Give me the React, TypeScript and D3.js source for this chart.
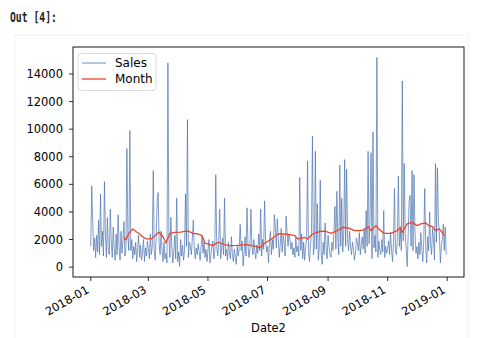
import React from "react";
import * as d3 from "d3";

// ---- Data ----
const salesJan = [1500, 5900, 3200, 1200, 2100, 700, 2300, 1100, 3400, 900, 5300, 1500, 2600, 800, 6200, 2400, 700, 3600, 1200, 900, 4200, 1800, 700, 2900, 1300, 500, 2400, 900, 3800, 1500, 500];
const salesFeb = [2600, 1000, 1900, 3300, 800, 1400, 8600, 2200, 1200, 9900, 1200, 2000, 600, 1500, 900, 1800, 400, 1300, 2300, 700, 1600, 500, 1100, 2000, 400, 1400, 800, 1900];
const salesMar = [1300, 600, 2400, 900, 1500, 7000, 1100, 500, 2200, 4800, 5400, 1700, 900, 2600, 1300, 400, 1800, 600, 1000, 300, 14800, 2100, 700, 3600, 1500, 300, 1200, 2300, 600, 5000, 400];
const salesApr = [1100, 60, 2000, 800, 1600, 500, 1200, 5300, 1500, 10700, 700, 1800, 1500, 900, 2100, 3400, 1300, 600, 1400, 900, 1700, 1100, 500, 1500, 2300, 1000, 1800, 700, 1300, 400];
const salesMay = [1200, 2000, 300, 900, 1500, 1900, 600, 1200, 6700, 1500, 800, 1700, 4200, 600, 1400, 2100, 900, 5000, 800, 1300, 500, 1800, 1000, 600, 2200, 900, 400, 1300, 700, 200, 1500];
const salesJun = [800, 1400, 3100, 1200, 1900, 80, 1000, 2200, 800, 4300, 1600, 700, 1300, 4200, 1500, 900, 2000, 1100, 600, 1600, 1000, 2400, 1200, 4200, 800, 2000, 1300, 4800, 1900, 1100];
const salesJul = [1500, 300, 1800, 2600, 900, 2000, 1300, 3800, 2900, 1400, 3500, 2200, 700, 1600, 2800, 1100, 2300, 1800, 800, 3700, 2600, 1500, 2400, 2000, 1300, 1800, 900, 1400, 700, 2200, 1100];
const salesAug = [1500, 800, 6500, 1200, 2400, 600, 1800, 500, 1400, 2000, 7700, 1100, 400, 1600, 2400, 9500, 900, 1500, 8400, 1300, 4600, 500, 1400, 6300, 900, 200, 1800, 900, 3200, 1400, 600];
const salesSep = [2300, 1500, 900, 700, 1800, 1200, 2600, 4400, 1300, 5500, 2000, 900, 7400, 1500, 5000, 1100, 2400, 7800, 1500, 7100, 2000, 1200, 2600, 1500, 900, 1800, 1300, 500, 1000, 2100];
const salesOct = [1800, 1200, 2500, 900, 1600, 2200, 1300, 2800, 1000, 4100, 1500, 8400, 1700, 3600, 8300, 600, 9800, 1400, 2300, 1100, 15200, 700, 1900, 1200, 900, 2000, 1100, 4100, 700, 1500, 1000];
const salesNov = [1300, 1900, 900, 2500, 1200, 400, 1800, 5700, 1100, 900, 2200, 6600, 1500, 2800, 1200, 13500, 1900, 7500, 2400, 1300, 40, 2300, 4800, 5200, 1500, 7000, 1200, 6700, 2600, 1000];
const salesDec = [1500, 600, 1800, 900, 2500, 1300, 400, 2000, 5700, 1500, 300, 2200, 1200, 4000, 1600, 900, 2800, 2000, 500, 7500, 1800, 7200, 3300, 2400, 300, 1500, 2100, 3100, 1200, 2900, 900];

const salesStart = "2018-01-01";

const monthDates = [
  "2018-02-04", "2018-02-06", "2018-02-09", "2018-02-13", "2018-02-17", "2018-02-20", "2018-02-24", "2018-02-27",
  "2018-03-04", "2018-03-08", "2018-03-12", "2018-03-16", "2018-03-19", "2018-03-23", "2018-03-28",
  "2018-04-03", "2018-04-10", "2018-04-16", "2018-04-21", "2018-04-25", "2018-04-28",
  "2018-05-02", "2018-05-06", "2018-05-09", "2018-05-12", "2018-05-15", "2018-05-18", "2018-05-23", "2018-05-31",
  "2018-06-09", "2018-06-15", "2018-06-20", "2018-06-23", "2018-06-28",
  "2018-07-05", "2018-07-12", "2018-07-18", "2018-07-25", "2018-07-29",
  "2018-08-01", "2018-08-05", "2018-08-08", "2018-08-11", "2018-08-16", "2018-08-21", "2018-08-25", "2018-08-29",
  "2018-09-04", "2018-09-09", "2018-09-14", "2018-09-16", "2018-09-23", "2018-09-28",
  "2018-10-03", "2018-10-08", "2018-10-12", "2018-10-15", "2018-10-20", "2018-10-23", "2018-10-28",
  "2018-11-04", "2018-11-11", "2018-11-14", "2018-11-16", "2018-11-21", "2018-11-26",
  "2018-12-01", "2018-12-05", "2018-12-10", "2018-12-13", "2018-12-17", "2018-12-20", "2018-12-24", "2018-12-29",
];
const monthValues = [
  2160, 1970, 2450, 2770, 2550, 2400, 2150, 2040,
  2040, 2300, 2540, 2200, 1740, 2450, 2520,
  2540, 2620, 2450, 2400, 2280, 1730,
  1650, 1560, 1700, 1800, 1700, 1630, 1560, 1580,
  1630, 1560, 1480, 1390, 1730,
  2040, 2400, 2400, 2330, 2280,
  2040, 2100, 2160, 2040, 2400, 2520, 2600, 2600,
  2450, 2600, 2770, 2890, 2810, 2640,
  2640, 2700, 2930, 2640, 3010, 2770, 2450,
  2450, 2640, 2890, 2520, 3130, 3250,
  3010, 3130, 3200, 3010, 2930, 2640, 2770, 2300,
];

const yTickValues = [0, 2000, 4000, 6000, 8000, 10000, 12000, 14000];
const xTickLabels = ["2018-01", "2018-03", "2018-05", "2018-07", "2018-09", "2018-11", "2019-01"];
const legendLabels = ["Sales", "Month"];

// ---- Layout ----
const W = 480;
const H = 338;
const M = { left: 73, right: 464, top: 47, bottom: 277 };
const SALES_COLOR = "#4c72b0";
const MONTH_COLOR = "#e8452b";
const FONT = "'DejaVu Sans', sans-serif";

export default function App() {
  const parse = d3.timeParse("%Y-%m-%d");
  const start = parse(salesStart) as Date;
  const salesValues = [
    ...salesJan, ...salesFeb, ...salesMar, ...salesApr, ...salesMay, ...salesJun,
    ...salesJul, ...salesAug, ...salesSep, ...salesOct, ...salesNov, ...salesDec,
  ];
  const sales = salesValues.map((v, i) => ({ date: d3.timeDay.offset(start, i), value: v }));
  const month = monthDates.map((d, i) => ({ date: parse(d) as Date, value: monthValues[i] }));

  const [x0, x1] = d3.extent(sales, (d) => d.date) as [Date, Date];
  const span = x1.getTime() - x0.getTime();
  const x = d3
    .scaleTime()
    .domain([new Date(x0.getTime() - span * 0.05), new Date(x1.getTime() + span * 0.05)])
    .range([M.left, M.right]);

  const [y0, y1] = d3.extent(salesValues) as [number, number];
  const yr = y1 - y0;
  const y = d3
    .scaleLinear()
    .domain([y0 - yr * 0.05, y1 + yr * 0.05])
    .range([M.bottom, M.top]);

  const line = d3
    .line<{ date: Date; value: number }>()
    .x((d) => x(d.date))
    .y((d) => y(d.value));

  const xTicks = xTickLabels.map((s) => ({ label: s, date: parse(s + "-01") as Date }));

  return (
    <div style={{ position: "absolute", left: 0, top: 0 }}>
      <svg width={W} height={H} style={{ display: "block", background: "#fff" }}>
        <text x={10} y={22} fontFamily="'DejaVu Sans Mono', monospace" fontSize={13.5} fontWeight="bold" fill="#222" textLength={47} lengthAdjust="spacingAndGlyphs">
          Out [4]:
        </text>
        <rect x={15} y={35} width={453} height={310} fill="none" stroke="#f1f1f1" strokeWidth={1} />
        <defs>
          <clipPath id="plotclip">
            <rect x={M.left} y={M.top} width={M.right - M.left} height={M.bottom - M.top} />
          </clipPath>
        </defs>
        <g clipPath="url(#plotclip)">
          <path d={line(sales) || ""} fill="none" stroke={SALES_COLOR} strokeWidth={0.7} strokeLinejoin="round" />
          <path d={line(month) || ""} fill="none" stroke={MONTH_COLOR} strokeWidth={1.3} strokeLinejoin="round" />
        </g>
        <rect x={M.left} y={M.top} width={M.right - M.left} height={M.bottom - M.top} fill="none" stroke="#000" strokeWidth={0.9} />
        {yTickValues.map((t) => (
          <g key={t}>
            <line x1={M.left - 4} x2={M.left} y1={y(t)} y2={y(t)} stroke="#000" strokeWidth={0.8} />
            <text x={M.left - 10} y={y(t)} dy="0.36em" textAnchor="end" fontFamily={FONT} fontSize={11.5} fill="#000">
              {t}
            </text>
          </g>
        ))}
        {xTicks.map((t) => (
          <g key={t.label}>
            <line x1={x(t.date)} x2={x(t.date)} y1={M.bottom} y2={M.bottom + 4} stroke="#000" strokeWidth={0.8} />
            <text
              transform={`translate(${x(t.date) - 1},${M.bottom + 15}) rotate(-30)`}
              textAnchor="end"
              fontFamily={FONT}
              fontSize={11.5}
              fill="#000"
            >
              {t.label}
            </text>
          </g>
        ))}
        <text x={(M.left + M.right) / 2} y={332} textAnchor="middle" fontFamily={FONT} fontSize={11.5} fill="#000">
          Date2
        </text>
        <g>
          <rect x={78} y={53.5} width={78} height={37} rx={3} fill="#fff" fillOpacity={0.8} stroke="#d0d0d0" strokeWidth={0.8} />
          {legendLabels.map((l, i) => (
            <g key={l}>
              <line x1={82} x2={106} y1={63 + i * 16} y2={63 + i * 16} stroke={i === 0 ? SALES_COLOR : MONTH_COLOR} strokeWidth={i === 0 ? 0.8 : 1.3} />
              <text x={115} y={63 + i * 16} dy="0.36em" fontFamily={FONT} fontSize={12} fill="#000">
                {l}
              </text>
            </g>
          ))}
        </g>
      </svg>
    </div>
  );
}
